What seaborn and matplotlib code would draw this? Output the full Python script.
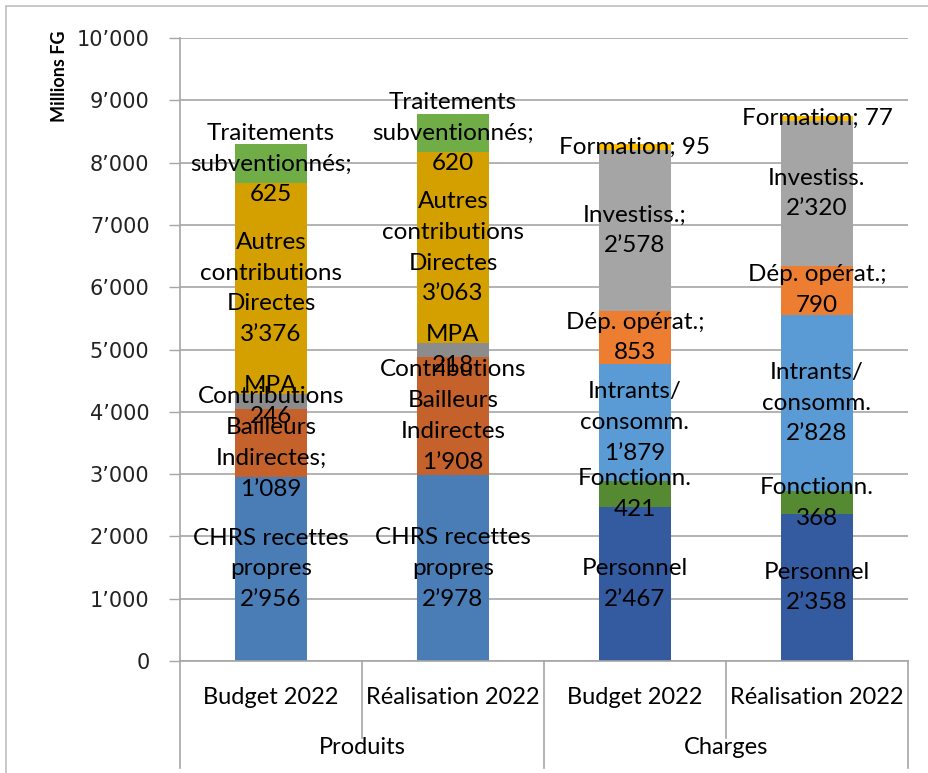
import pandas as pd
import seaborn as sns
import matplotlib.pyplot as plt
from matplotlib.patches import Rectangle

# bars (one per column) and their stacked segments, bottom to top
columns = ['Budget 2022 P', 'Réalisation 2022 P', 'Budget 2022 C', 'Réalisation 2022 C']
tick_labels = ['Budget 2022', 'Réalisation 2022', 'Budget 2022', 'Réalisation 2022']
groups = ['Produits', 'Charges']

produits_names = ['CHRS recettes\npropres', 'Contributions\nBailleurs\nIndirectes', 'MPA',
                  'Autres\ncontributions\nDirectes', 'Traitements\nsubventionnés;']
produits_budget = [2956, 1089, 246, 3376, 625]
produits_real = [2978, 1908, 218, 3063, 620]
produits_colors = ['#4A7DB5', '#C5622B', '#8C8C8C', '#D4A000', '#70AD47']

charges_budget_names = ['Personnel', 'Fonctionn.', 'Intrants/\nconsomm.', 'Dép. opérat.;',
                        'Investiss.;', 'Formation;']
charges_real_names = ['Personnel', 'Fonctionn.', 'Intrants/\nconsomm.', 'Dép. opérat.;',
                      'Investiss.', 'Formation;']
charges_budget = [2467, 421, 1879, 853, 2578, 95]
charges_real = [2358, 368, 2828, 790, 2320, 77]
charges_colors = ['#345A9F', '#558A33', '#5B9BD5', '#ED7D31', '#A5A5A5', '#FFC000']

# label of each segment differs slightly from its series name in the original
budget_p_labels = ['CHRS recettes\npropres', 'Contributions\nBailleurs\nIndirectes;', 'MPA',
                   'Autres\ncontributions\nDirectes', 'Traitements\nsubventionnés;']


def fmt(v):
    return f'{v:,}'.replace(',', '’')


rows = []
series = [
    (columns[0], budget_p_labels, produits_budget, produits_colors),
    (columns[1], produits_names, produits_real, produits_colors),
    (columns[2], charges_budget_names, charges_budget, charges_colors),
    (columns[3], charges_real_names, charges_real, charges_colors),
]
for col, names, vals, cols in series:
    cum = 0
    for i, (n, v, c) in enumerate(zip(names, vals, cols)):
        cum += v
        rows.append(dict(colonne=col, layer=i, name=n, value=v, cum=cum, color=c))
df = pd.DataFrame(rows)

fig = plt.figure(figsize=(9.29, 7.73), dpi=100)
ax = fig.add_axes([180 / 929, 1 - 661 / 773, 728 / 929, 623 / 773])

# stacked bars: draw cumulative heights from top layer down
for layer in sorted(df['layer'].unique(), reverse=True):
    sub = df[df['layer'] == layer]
    pal = dict(zip(sub['colonne'], sub['color']))
    sns.barplot(data=sub, x='colonne', y='cum', hue='colonne', palette=pal, order=columns,
                hue_order=list(sub['colonne']), width=0.4, legend=False, saturation=1, ax=ax,
                zorder=2, linewidth=0)

# segment labels
lab_font = dict(family='Lato', fontsize=17.5, color='black', ha='center', va='center',
                linespacing=1.58, zorder=5)
for _, r in df.iterrows():
    x = columns.index(r['colonne'])
    y = r['cum'] - r['value'] / 2
    if r['name'].startswith('Formation'):
        txt = f"Formation; {r['value']}"
    else:
        txt = f"{r['name']}\n{fmt(r['value'])}"
    ax.text(x, y, txt, **lab_font)

ax.set_ylim(0, 10000)
ax.set_xlim(-0.5, 3.5)
ax.set_yticks(range(0, 10001, 1000))
ax.set_yticklabels([fmt(v) for v in range(0, 10001, 1000)], fontsize=15, family='DejaVu Sans',
                   color='#222222')
ax.grid(axis='y', color='#A6A6A6', linewidth=1.2, zorder=0)
ax.set_axisbelow(True)
ax.tick_params(axis='y', length=8, width=1, color='#A6A6A6', pad=14)
ax.tick_params(axis='x', length=0)
ax.set_xticks(range(4))
ax.set_xticklabels([])
ax.set_xlabel('')
ax.set_ylabel('')
for s in ['top', 'right']:
    ax.spines[s].set_visible(False)
ax.spines['left'].set_color('#A6A6A6')
ax.spines['bottom'].set_color('#A6A6A6')
ax.spines['left'].set_linewidth(1.2)
ax.spines['bottom'].set_linewidth(1.2)

# multi-level category axis
trans = ax.get_xaxis_transform()
for i, t in enumerate(tick_labels):
    ax.text(i, -36 / 623, t, transform=trans, ha='center', va='center', family='Lato',
            fontsize=17)
for g, gx in zip(groups, [0.5, 2.5]):
    ax.text(gx, -86 / 623, g, transform=trans, ha='center', va='center', family='Lato',
            fontsize=17)
for xd in [-0.5, 1.5, 3.5]:
    ax.plot([xd, xd], [0, -107 / 623], transform=trans, color='#A6A6A6', lw=1.2, clip_on=False)
for xd in [0.5, 2.5]:
    ax.plot([xd, xd], [0, -77 / 623], transform=trans, color='#A6A6A6', lw=1.2, clip_on=False)

fig.text(60 / 929, 1 - 30 / 773, 'Millions FG', rotation=90, ha='center', va='top',
         family='Lato', fontweight='bold', fontsize=13)

# outer chart border
fig.patches.append(Rectangle((6 / 929, -0.01), 1.0, 1 - 6 / 773 + 0.01, transform=fig.transFigure,
                             fill=False, edgecolor='#BFBFBF', lw=1.2))

fig.savefig('out.png', dpi=100)
